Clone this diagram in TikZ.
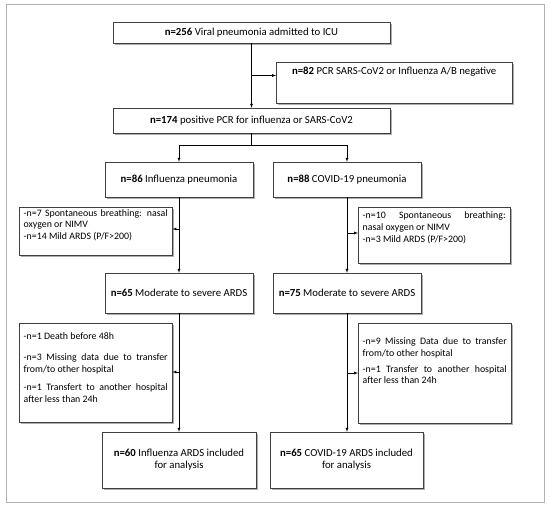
\documentclass[tikz,border=0pt]{standalone}
\usepackage{fontspec}
\setmainfont{Carlito}
\usetikzlibrary{shadows}
\hyphenpenalty=10000
\exhyphenpenalty=10000

\tikzstyle{block} = [ draw=black!75,fill=white,align=center,inner sep=3bp,
                      drop shadow={shadow xshift=1.5bp,shadow yshift=-2bp,fill=black!45,opacity=0.7},
                      font=\fontsize{10.8}{12}\selectfont]
\tikzstyle{note}  = [ block,anchor=north west,align=justify,inner xsep=4.5bp,
                      font=\fontsize{9.9}{11.8}\selectfont]

\begin{document}
\begin{tikzpicture}[x=1bp,y=-1bp]
  \useasboundingbox (0,0) rectangle (550,507);
  \draw[black!30,line width=1bp] (6,5) rectangle (544,502);

  \node[block,minimum width=277bp,minimum height=21bp] at (251.5,32.5) (adm) {\textbf{n=256} Viral pneumonia admitted to ICU};
  \node[block,anchor=north west,minimum width=236bp,text height=9.5bp,text depth=25.5bp] at (276,62) (neg) {\textbf{n=82} PCR SARS-CoV2 or Influenza A/B negative};
  \node[block,minimum width=277bp,minimum height=25bp] at (251.5,120.5) (pos) {\textbf{n=174} positive PCR for influenza or SARS-CoV2};

  \node[block,minimum width=148bp,minimum height=35bp] at (179,179.5) (infl) {\textbf{n=86} Influenza pneumonia};
  \node[block,minimum width=148bp,minimum height=35bp] at (347,179.5) (covid) {\textbf{n=88} COVID-19 pneumonia};

  \node[note,text width=144bp,text height=6bp,text depth=35.5bp] at (19,207) (infex) {-n=7 Spontaneous breathing: nasal oxygen or NIMV\\-n=14 Mild ARDS (P/F>200)};
  \node[note,text width=143bp,text height=8.5bp,text depth=41.5bp] at (358,207) (covex) {-n=10 Spontaneous breathing:\linebreak nasal oxygen or NIMV\\-n=3 Mild ARDS (P/F>200)};

  \node[block,minimum width=148bp,minimum height=40bp] at (179,293) (infsev) {\textbf{n=65} Moderate to severe ARDS};
  \node[block,minimum width=148bp,minimum height=40bp] at (347,293) (covsev) {\textbf{n=75} Moderate to severe ARDS};

  \node[note,text width=144bp,text height=13.5bp,text depth=79.5bp] at (19,323) (infout) {-n=1 Death before 48h\\[9bp]-n=3 Missing data due to transfer from/to other hospital\\[6.5bp]-n=1 Transfert to another hospital after less than 24h};
  \node[note,text width=144bp,text height=18.5bp,text depth=75.5bp] at (358,323) (covout) {-n=9 Missing Data due to transfer from/to other hospital\\[4bp]\ -n=1 Transfer to another hospital after less than 24h};

  \node[block,minimum width=154bp,minimum height=56bp] at (179,460) (infan) {\textbf{n=60} Influenza ARDS included\\for analysis};
  \node[block,minimum width=153bp,minimum height=56bp] at (346.5,460) (covan) {\textbf{n=65} COVID-19 ARDS included\\for analysis};

  \coordinate (b1) at (adm.south |- 0,75.5);
  \coordinate (b2) at (infl.south |- 0,229);
  \coordinate (b3) at (covid.south |- 0,233);
  \coordinate (b4) at (infsev.south |- 0,372);
  \coordinate (b5) at (covsev.south |- 0,373);

  \draw[-latex] (adm.south) -- (pos.north);
  \draw[-latex] (b1) -- (b1 -| neg.west);
  \draw[-latex] (pos.south) -- +(0,12) -| (infl.north);
  \draw[-latex] (pos.south) -- +(0,12) -| (covid.north);
  \draw[-latex] (infl.south) -- (infsev.north);
  \draw[-latex] (b2) -- (b2 -| infex.east);
  \draw[-latex] (covid.south) -- (covsev.north);
  \draw[-latex] (b3) -- (b3 -| covex.west);
  \draw[-latex] (infsev.south) -- (infan.north);
  \draw[-latex] (b4) -- (b4 -| infout.east);
  \draw[-latex] (covsev.south) -- (covsev.south |- covan.north);
  \draw[-latex] (b5) -- (b5 -| covout.west);
\end{tikzpicture}
\end{document}
